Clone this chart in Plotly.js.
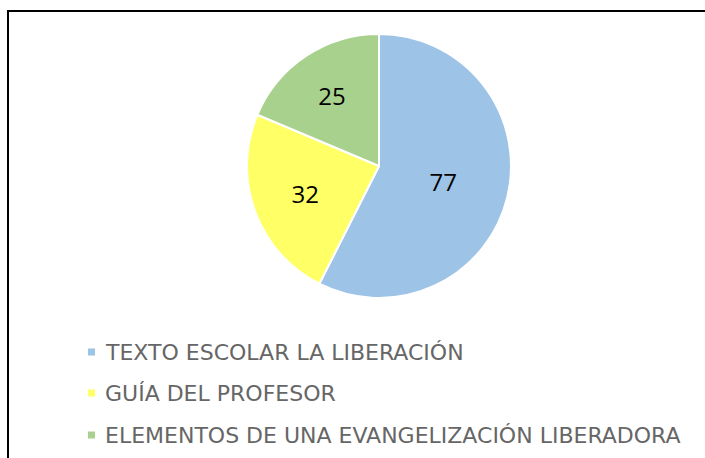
<!DOCTYPE html>
<html>
<head>
<meta charset="utf-8">
<script src="https://cdn.plot.ly/plotly-3.0.1.min.js"></script>
<style>
html,body{margin:0;padding:0;background:#fff;overflow:hidden;}
#wrap{position:relative;width:705px;height:458px;overflow:hidden;}
#chart{width:705px;height:458px;}
#frame{position:absolute;left:7px;top:10px;width:760px;height:520px;border-top:2px solid #000;border-left:2px solid #000;pointer-events:none;}
</style>
</head>
<body>
<div id="wrap">
<div id="chart"></div>
<div id="frame"></div>
</div>
<script>
const labels = ["TEXTO ESCOLAR LA LIBERACIÓN", "GUÍA DEL PROFESOR", "ELEMENTOS DE UNA EVANGELIZACIÓN LIBERADORA"];
const values = [77, 32, 25];
const colors = ["#9DC3E6", "#FFFF66", "#A9D18E"];

const W = 705, H = 458;
const cx = 379, cy = 166, r = 132;
const px = v => v / W;
const py = v => (H - v) / H;

const trace = {
  type: "pie",
  labels: labels,
  values: values,
  sort: false,
  direction: "clockwise",
  rotation: 0,
  marker: {colors: colors, line: {color: "#ffffff", width: 2}},
  textinfo: "value",
  textposition: "inside",
  insidetextorientation: "horizontal",
  textfont: {family: "Open Sans, sans-serif", size: 24, color: "#000000"},
  hoverinfo: "label+value",
  showlegend: false,
  domain: {x: [px(cx - r), px(cx + r)], y: [py(cy + r), py(cy - r)]}
};

const legendRows = [352, 393, 435];
const shapes = [];
const annotations = [];
labels.forEach((lab, i) => {
  const y = legendRows[i];
  shapes.push({
    type: "rect", xref: "paper", yref: "paper",
    x0: px(88), x1: px(95), y0: py(y + 3.5), y1: py(y - 3.5),
    line: {width: 0}, fillcolor: colors[i]
  });
  annotations.push({
    xref: "paper", yref: "paper", x: px(103), y: py(y),
    xanchor: "left", yanchor: "middle", showarrow: false,
    text: lab,
    font: {family: "DejaVu Sans, sans-serif", size: 22, color: "#666666"}
  });
});

const layout = {
  width: W, height: H,
  margin: {l: 0, r: 0, t: 0, b: 0},
  paper_bgcolor: "#ffffff",
  showlegend: false,
  shapes: shapes,
  annotations: annotations
};

Plotly.newPlot("chart", [trace], layout, {displayModeBar: false, staticPlot: true});
</script>
</body>
</html>
